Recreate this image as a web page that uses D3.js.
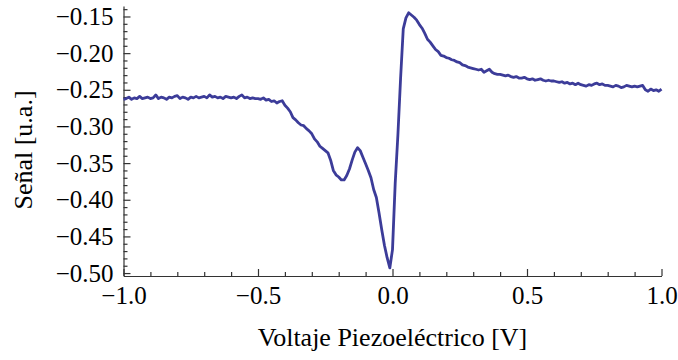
<!DOCTYPE html>
<html>
<head>
<meta charset="utf-8">
<script src="https://cdn.jsdelivr.net/npm/d3@7"></script>
<style>
  body { margin: 0; background: #fff; }
</style>
</head>
<body>
<div id="chart"></div>
<script>
const voltaje = [
  -1.00, -0.99, -0.98, -0.97, -0.96, -0.95, -0.94, -0.93, -0.92, -0.91,
  -0.90, -0.89, -0.88, -0.87, -0.86, -0.85, -0.84, -0.83, -0.82, -0.81,
  -0.80, -0.79, -0.78, -0.77, -0.76, -0.75, -0.74, -0.73, -0.72, -0.71,
  -0.70, -0.69, -0.68, -0.67, -0.66, -0.65, -0.64, -0.63, -0.62, -0.61,
  -0.60, -0.59, -0.58, -0.57, -0.56, -0.55, -0.54, -0.53, -0.52, -0.51,
  -0.50, -0.49, -0.48, -0.47, -0.46, -0.45, -0.44, -0.43, -0.42, -0.41,
  -0.40, -0.39, -0.38, -0.37, -0.36, -0.35, -0.34, -0.33, -0.32, -0.31,
  -0.30, -0.29, -0.28, -0.27, -0.26, -0.25, -0.24, -0.23, -0.22, -0.21,
  -0.20, -0.19, -0.18, -0.17, -0.16, -0.15, -0.14, -0.13, -0.12, -0.11,
  -0.10, -0.09, -0.08, -0.07, -0.06, -0.05, -0.04, -0.03, -0.02, -0.01,
  0.00, 0.01, 0.02, 0.03, 0.04, 0.05, 0.06, 0.07, 0.08, 0.09,
  0.10, 0.11, 0.12, 0.13, 0.14, 0.15, 0.16, 0.17, 0.18, 0.19,
  0.20, 0.21, 0.22, 0.23, 0.24, 0.25, 0.26, 0.27, 0.28, 0.29,
  0.30, 0.31, 0.32, 0.33, 0.34, 0.35, 0.36, 0.37, 0.38, 0.39,
  0.40, 0.41, 0.42, 0.43, 0.44, 0.45, 0.46, 0.47, 0.48, 0.49,
  0.50, 0.51, 0.52, 0.53, 0.54, 0.55, 0.56, 0.57, 0.58, 0.59,
  0.60, 0.61, 0.62, 0.63, 0.64, 0.65, 0.66, 0.67, 0.68, 0.69,
  0.70, 0.71, 0.72, 0.73, 0.74, 0.75, 0.76, 0.77, 0.78, 0.79,
  0.80, 0.81, 0.82, 0.83, 0.84, 0.85, 0.86, 0.87, 0.88, 0.89,
  0.90, 0.91, 0.92, 0.93, 0.94, 0.95, 0.96, 0.97, 0.98, 0.99, 1.00
];

const senal = [
  -0.263, -0.262, -0.260, -0.263, -0.261, -0.262, -0.259, -0.262, -0.261, -0.260,
  -0.262, -0.261, -0.257, -0.262, -0.260, -0.261, -0.263, -0.260, -0.261, -0.259,
  -0.258, -0.262, -0.260, -0.261, -0.263, -0.260, -0.261, -0.259, -0.261, -0.260,
  -0.259, -0.261, -0.257, -0.260, -0.259, -0.261, -0.260, -0.262, -0.259, -0.260,
  -0.261, -0.260, -0.262, -0.259, -0.257, -0.261, -0.260, -0.262, -0.261, -0.262,
  -0.262, -0.263, -0.261, -0.264, -0.263, -0.266, -0.265, -0.268, -0.266, -0.265,
  -0.271, -0.275, -0.280, -0.288, -0.291, -0.295, -0.298, -0.299, -0.303, -0.306,
  -0.310, -0.317, -0.321, -0.327, -0.330, -0.333, -0.336, -0.346, -0.360, -0.366,
  -0.369, -0.373, -0.373, -0.367, -0.358, -0.346, -0.335, -0.329, -0.333, -0.342,
  -0.351, -0.360, -0.370, -0.386, -0.397, -0.418, -0.441, -0.462, -0.479, -0.493,
  -0.468, -0.378, -0.312, -0.235, -0.167, -0.152, -0.145, -0.148, -0.151, -0.155,
  -0.161, -0.166, -0.173, -0.181, -0.185, -0.190, -0.195, -0.198, -0.203, -0.204,
  -0.206, -0.207, -0.209, -0.210, -0.212, -0.213, -0.216, -0.217, -0.219, -0.220,
  -0.221, -0.222, -0.223, -0.222, -0.226, -0.224, -0.222, -0.226, -0.228, -0.229,
  -0.229, -0.230, -0.231, -0.230, -0.232, -0.233, -0.232, -0.234, -0.234, -0.233,
  -0.235, -0.236, -0.235, -0.237, -0.236, -0.235, -0.237, -0.238, -0.237, -0.238,
  -0.238, -0.239, -0.240, -0.239, -0.241, -0.240, -0.242, -0.241, -0.243, -0.241,
  -0.243, -0.244, -0.245, -0.243, -0.244, -0.242, -0.241, -0.243, -0.242, -0.244,
  -0.244, -0.245, -0.246, -0.244, -0.245, -0.247, -0.246, -0.244, -0.245, -0.246,
  -0.245, -0.246, -0.245, -0.244, -0.250, -0.252, -0.249, -0.251, -0.250, -0.252, -0.249
];

const xTicks = [-1.0, -0.5, 0.0, 0.5, 1.0];
const xMinor = [-0.9, -0.8, -0.7, -0.6, -0.4, -0.3, -0.2, -0.1, 0.1, 0.2, 0.3, 0.4, 0.6, 0.7, 0.8, 0.9];
const yTicks = [-0.50, -0.45, -0.40, -0.35, -0.30, -0.25, -0.20, -0.15];
const yMinor = [-0.49, -0.48, -0.47, -0.46, -0.44, -0.43, -0.42, -0.41, -0.39, -0.38, -0.37, -0.36,
  -0.34, -0.33, -0.32, -0.31, -0.29, -0.28, -0.27, -0.26, -0.24, -0.23, -0.22, -0.21,
  -0.19, -0.18, -0.17, -0.16, -0.14];

const w = 678, h = 360;
const mLeft = 123.5, mRight = 661.5, mTop = 6, mBottom = 276;
const serif = '"Times New Roman", Times, Tinos, "Nimbus Roman", "Nimbus Roman No9 L", FreeSerif, "Noto Serif", "DejaVu Serif", Georgia, "Liberation Serif", serif';

const svg = d3.select('#chart').append('svg').attr('width', w).attr('height', h);

const xScale = d3.scaleLinear().domain([-1, 1]).range([mLeft, mRight]);
const yScale = d3.scaleLinear().domain([-0.504, -0.1357]).range([mBottom, mTop]);

const fmtX = d3.format('.1f');
const fmtY = d3.format('.2f');

// minor ticks first
svg.append('g').attr('transform', `translate(0,${mBottom})`)
  .call(d3.axisBottom(xScale).tickValues(xMinor).tickFormat('').tickSizeInner(-4).tickSizeOuter(0))
  .call(g => g.select('.domain').remove());
svg.append('g').attr('transform', `translate(${mLeft},0)`)
  .call(d3.axisLeft(yScale).tickValues(yMinor).tickFormat('').tickSizeInner(-4).tickSizeOuter(0))
  .call(g => g.select('.domain').remove());

const xAxis = svg.append('g').attr('transform', `translate(0,${mBottom})`)
  .call(d3.axisBottom(xScale).tickValues(xTicks).tickFormat(fmtX).tickSizeInner(-7).tickSizeOuter(0).tickPadding(10));
const yAxis = svg.append('g').attr('transform', `translate(${mLeft},0)`)
  .call(d3.axisLeft(yScale).tickValues(yTicks).tickFormat(fmtY).tickSizeInner(-7).tickSizeOuter(0).tickPadding(10));

svg.selectAll('g').attr('font-family', serif);
svg.selectAll('.tick line, .domain').attr('stroke', '#333').attr('stroke-width', 1.2);
svg.selectAll('.tick text').attr('font-size', 25).attr('fill', '#000');

const line = d3.line()
  .x((d, i) => xScale(voltaje[i]))
  .y(d => yScale(d));

svg.append('path')
  .datum(senal)
  .attr('d', line)
  .attr('fill', 'none')
  .attr('stroke', '#3c3c99')
  .attr('stroke-width', 2.8)
  .attr('stroke-linejoin', 'round');

svg.append('text')
  .attr('x', (mLeft + mRight) / 2)
  .attr('y', 346)
  .attr('text-anchor', 'middle')
  .attr('font-size', 26)
  .attr('font-family', serif)
  .text('Voltaje Piezoeléctrico [V]');

svg.append('text')
  .attr('transform', 'translate(32,150) rotate(-90)')
  .attr('text-anchor', 'middle')
  .attr('font-size', 26)
  .attr('font-family', serif)
  .text('Señal [u.a.]');
</script>
</body>
</html>
